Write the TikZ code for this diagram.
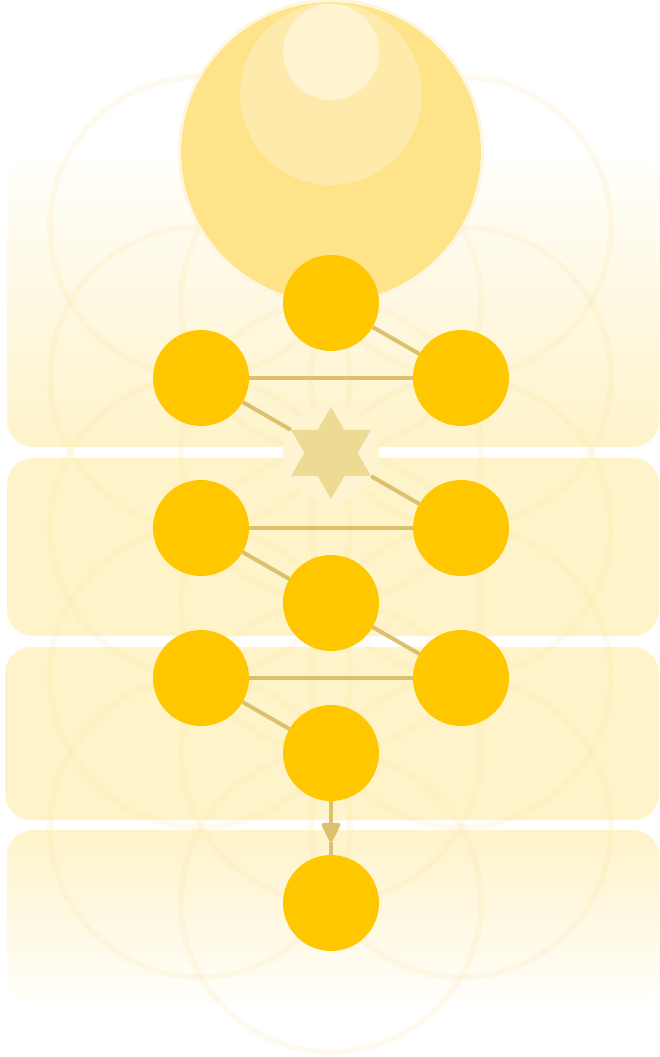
\documentclass[tikz,border=0pt]{standalone}
\usepackage{xcolor}
\usepackage{tikz}
\usetikzlibrary{shapes.geometric,arrows.meta,positioning,backgrounds}

\definecolor{sephgold}{HTML}{FFC700}
\definecolor{pathgold}{HTML}{DBC16E}
\definecolor{stargold}{HTML}{EDDA93}
\definecolor{bandyellow}{HTML}{FEF3C9}
\definecolor{flowerline}{HTML}{F7DC8C}
\definecolor{crownouter}{HTML}{FEE388}
\definecolor{crownmid}{HTML}{FEEBAB}
\definecolor{crowninner}{HTML}{FFF3D0}
\definecolor{crownrim}{HTML}{FEF6DE}
\definecolor{halo}{HTML}{FFF4D2}

\begin{document}
\begin{tikzpicture}[
        x=1pt, y=-1pt,
        node distance=150pt, on grid,
        sephira/.style={circle, fill=sephgold, minimum size=96pt, inner sep=0pt},
        daatstar/.style={star, star points=6, star point ratio=1.73, fill=stargold, minimum size=92pt, inner sep=0pt},
        channel/.style={draw=pathgold, line width=4pt},
        band/.style={rounded corners=26pt},
        flower/.style={draw=flowerline, line width=6pt, draw opacity=0.13}
    ]
        \useasboundingbox (0,0) rectangle (659,1057);

        % Nodes
        \node[sephira] (keter) at (331,303) {};
        \node[sephira, below left=75pt and 130pt of keter] (binah) {};
        \node[sephira, below right=75pt and 130pt of keter] (chokmah) {};
        \node[daatstar, below=of keter] (daat) {};
        \node[sephira, below=of binah] (gevurah) {};
        \node[sephira, below=of chokmah] (chesed) {};
        \node[sephira, below=300pt of keter] (tiferet) {};
        \node[sephira, below=of gevurah] (hod) {};
        \node[sephira, below=of chesed] (netzach) {};
        \node[sephira, below=of tiferet] (yesod) {};
        \node[sephira, below=of yesod] (malkuth) {};
        \coordinate (descent) at (331,842);

        % Background: bands, flower of life, crown
        \begin{scope}[on background layer]
            \shade[band, top color=bandyellow!8, bottom color=bandyellow] (7,158) rectangle (659,447);
            \fill[band, bandyellow] (7,458) rectangle (659,636);
            \fill[band, bandyellow] (5,647) rectangle (659,820);
            \shade[band, top color=bandyellow, bottom color=bandyellow!8] (7,830) rectangle (659,1003);

            \foreach \yy in {152,302,...,902}
                \draw[flower] (331,\yy) circle (150);
            \foreach \yy in {227,377,...,827} {
                \draw[flower] (200,\yy) circle (150);
                \draw[flower] (461,\yy) circle (150);
            }

            \fill[crownouter] (331,152) circle (150);
            \draw[crownrim, line width=3pt] (331,152) circle (151.5);
            \fill[crownmid] (331,94) circle (91);
            \fill[crowninner] (331,52) circle (48);

            \fill[halo] (daat) circle (48);
        \end{scope}

        % Edges
        \draw[channel] (keter) -- (chokmah);
        \draw[channel] (binah) -- (chokmah);
        \draw[channel] (binah) -- (daat);
        \draw[channel] (daat) -- (chesed);
        \draw[channel] (gevurah) -- (chesed);
        \draw[channel] (gevurah) -- (tiferet);
        \draw[channel] (tiferet) -- (netzach);
        \draw[channel] (hod) -- (netzach);
        \draw[channel] (hod) -- (yesod);
        \draw[channel, -{Triangle[length=22pt, width=20pt, round]}] (yesod) -- (descent);
        \draw[channel] (descent) -- (malkuth);
    \end{tikzpicture}
\end{document}
